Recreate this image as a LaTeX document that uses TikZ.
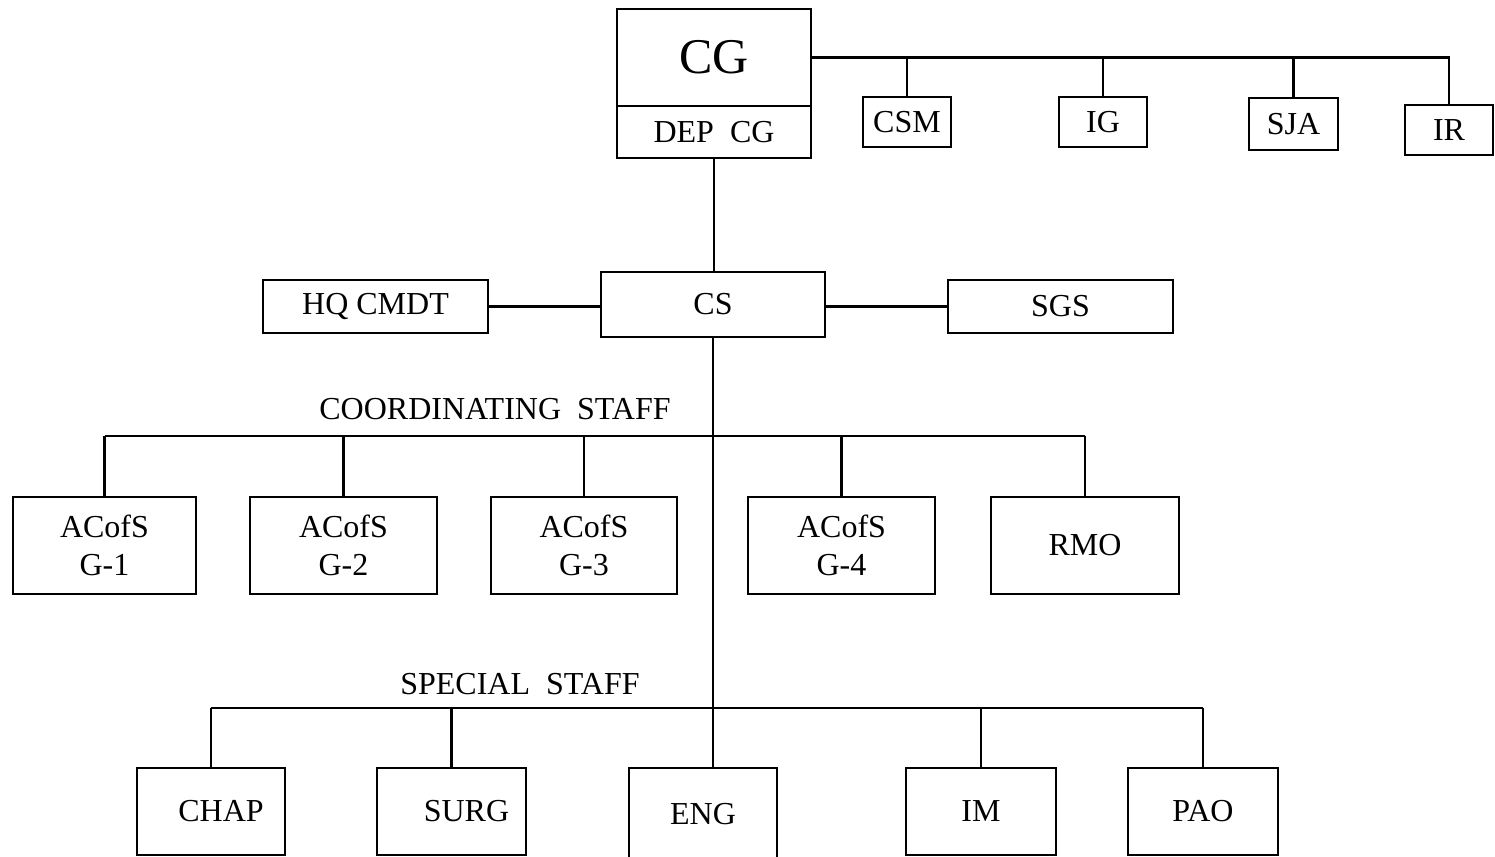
\documentclass[tikz,border=0pt]{standalone}
\usepackage{fontspec}
\setmainfont{Liberation Serif}
\begin{document}
\begin{tikzpicture}[x=0.5pt,y=-0.5pt,
  box/.style={draw, line width=1.1pt, inner sep=0pt, font=\fontsize{16}{19}\selectfont, align=center},
  lbl/.style={inner sep=0pt, font=\fontsize{16}{19}\selectfont},
  conn/.style={line width=1.1pt}]
\useasboundingbox (0,0) rectangle (1495,857);
% top
\node[box, minimum width=97pt, minimum height=48.5pt, font=\fontsize{25}{30}\selectfont] (CG) at (714,57.5) {CG};
\node[box, minimum width=97pt, minimum height=26pt] (DEP) at (714,132) {DEP~~CG};
\node[box, minimum width=44pt, minimum height=25pt] (CSM) at (907,122) {CSM};
\node[box, minimum width=44pt, minimum height=25pt] (IG) at (1103,122) {IG};
\node[box, minimum width=44.5pt, minimum height=26pt] (SJA) at (1293.5,124) {SJA};
\node[box, minimum width=44pt, minimum height=25pt] (IR) at (1449,130) {IR};
% CS row
\node[box, minimum width=112pt, minimum height=32.5pt] (CS) at (713,304.5) {CS};
\node[box, minimum width=112.5pt, minimum height=26.5pt] (HQ) at (375.5,306.5) {HQ CMDT};
\node[box, minimum width=112.5pt, minimum height=26.5pt] (SGS) at (1060.5,306.5) {SGS};
% coordinating staff
\node[lbl] (coordlbl) at (495,409) {COORDINATING~~STAFF};
\coordinate (cbus) at (0,436);
\node[box, minimum width=91.5pt, minimum height=48.5pt] (G1) at (104.5,545.5) {ACofS\\G-1};
\node[box, minimum width=93.5pt, minimum height=48.5pt] (G2) at (343.5,545.5) {ACofS\\G-2};
\node[box, minimum width=93pt, minimum height=48.5pt] (G3) at (584,545.5) {ACofS\\G-3};
\node[box, minimum width=93.5pt, minimum height=48.5pt] (G4) at (841.5,545.5) {ACofS\\G-4};
\node[box, minimum width=94pt, minimum height=48.5pt] (RMO) at (1085,545.5) {RMO};
% special staff
\node[lbl] (speclbl) at (520,684) {SPECIAL~~STAFF};
\coordinate (sbus) at (0,708);
\node[box, minimum width=74pt, minimum height=43.5pt] (CHAP) at (211,811.5) {\hspace{10pt}CHAP};
\node[box, minimum width=74.5pt, minimum height=43.5pt] (SURG) at (451.5,811.5) {\hspace{15pt}SURG};
\node[box, minimum width=74pt, minimum height=47pt] (ENG) at (703,815) {\raisebox{1.5pt}{ENG}};
\node[box, minimum width=75pt, minimum height=43.5pt] (IM) at (981,811.5) {IM};
\node[box, minimum width=75pt, minimum height=43.5pt] (PAO) at (1203,811.5) {PAO};
% connectors top
\draw[conn] (CG.east) -- (IR.north |- CG.east) -- (IR.north);
\draw[conn] (CSM.north |- CG.east) -- (CSM.north);
\draw[conn] (IG.north |- CG.east) -- (IG.north);
\draw[conn] (SJA.north |- CG.east) -- (SJA.north);
\draw[conn] (DEP.south) -- (DEP.south |- CS.north);
\draw[conn] (HQ.east) -- (HQ.east -| CS.west);
\draw[conn] (SGS.west -| CS.east) -- (SGS.west);
\draw[conn] (CS.south) -- (CS.south |- ENG.north);
% coordinating bus
\draw[conn] (G1.north |- cbus) -- (RMO.north |- cbus);
\foreach \n in {G1,G2,G3,G4,RMO} \draw[conn] (\n.north |- cbus) -- (\n.north);
% special bus
\draw[conn] (CHAP.north |- sbus) -- (PAO.north |- sbus);
\foreach \n in {CHAP,SURG,IM,PAO} \draw[conn] (\n.north |- sbus) -- (\n.north);
\end{tikzpicture}
\end{document}
